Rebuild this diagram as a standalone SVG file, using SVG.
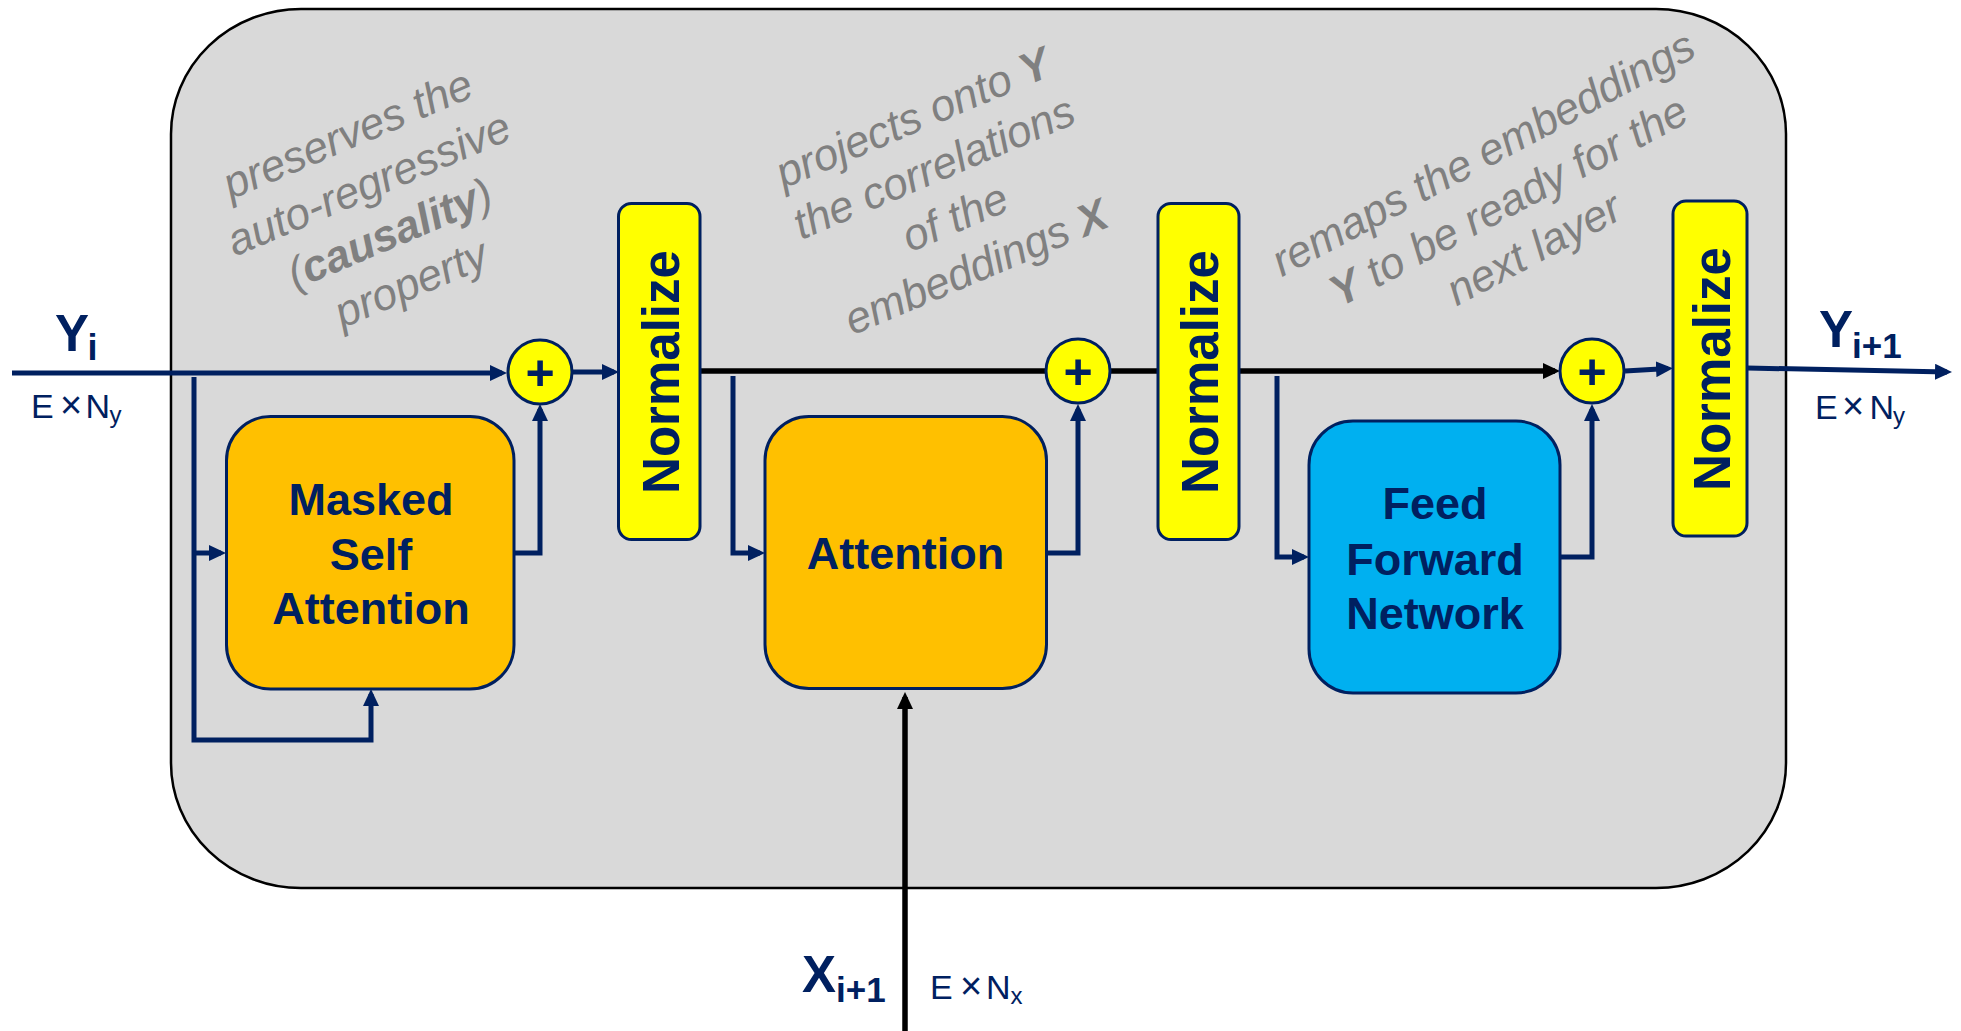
<svg xmlns="http://www.w3.org/2000/svg" width="1961" height="1031" viewBox="0 0 1961 1031">
  <style>
    text { font-family: "Liberation Sans", Arial, sans-serif; }
    .frame { fill: #D9D9D9; stroke: #000000; stroke-width: 2.5; }
    .block { stroke: #002060; stroke-width: 3; }
    .orange { fill: #FFC000; }
    .blue { fill: #00B0F0; }
    .yellow { fill: #FFFF00; }
    .blockText { fill: #002060; font-weight: bold; font-size: 45px; text-anchor: middle; }
    .normText { fill: #002060; font-weight: bold; font-size: 51px; text-anchor: middle; }
    .plus { fill: #002060; font-weight: bold; font-size: 50px; text-anchor: middle; }
    .wire { fill: none; stroke: #002060; stroke-width: 5; stroke-linejoin: miter; }
    .wireBlack { fill: none; stroke: #000000; stroke-width: 5.5; }
    .note { fill: #808080; font-size: 44px; font-style: italic; text-anchor: middle; }
    .note .b { font-weight: bold; }
    .sym { fill: #002060; font-weight: bold; }
    .dim { fill: #002060; font-size: 34px; }
    .times { font-size: 38px; }
    .dimSub { fill: #002060; font-size: 24px; }
  </style>
  <defs>
    <marker id="arrNavy" viewBox="0 0 17 16" refX="12" refY="8" markerWidth="17" markerHeight="16" markerUnits="userSpaceOnUse" orient="auto">
      <path d="M0,0 L17,8 L0,16 Z" fill="#002060"/>
    </marker>
    <marker id="arrBlack" viewBox="0 0 17 16" refX="12" refY="8" markerWidth="17" markerHeight="16" markerUnits="userSpaceOnUse" orient="auto">
      <path d="M0,0 L17,8 L0,16 Z" fill="#000000"/>
    </marker>
  </defs>

  <rect width="1961" height="1031" fill="#FFFFFF"/>

  <!-- decoder layer frame -->
  <g id="layer-frame">
    <rect class="frame" x="171" y="9" width="1615" height="879" rx="130" ry="125"/>
  </g>

  <!-- side notes -->
  <g id="note-causality" transform="translate(380.5,211.75) rotate(-23)">
    <text class="note" x="0" y="-69.5">preserves the</text>
    <text class="note" x="0" y="-15.5">auto-regressive</text>
    <text class="note" x="0" y="38.5">(<tspan class="b">causality</tspan>)</text>
    <text class="note" x="0" y="92.5">property</text>
  </g>
  <g id="note-cross" transform="translate(945.75,195.5) rotate(-23)">
    <text class="note" x="0" y="-69.5">projects onto <tspan class="b">Y</tspan></text>
    <text class="note" x="0" y="-15.5">the correlations</text>
    <text class="note" x="0" y="38.5">of the</text>
    <text class="note" x="0" y="92.5">embeddings <tspan class="b">X</tspan></text>
  </g>
  <g id="note-ffn" transform="translate(1510,204) rotate(-28)">
    <text class="note" x="0" y="-42.5">remaps the embeddings</text>
    <text class="note" x="0" y="11.5"><tspan class="b">Y</tspan> to be ready for the</text>
    <text class="note" x="0" y="65.5">next layer</text>
  </g>

  <!-- connectors -->
  <g id="connectors">
    <path class="wire" d="M12,373 H502" marker-end="url(#arrNavy)"/>
    <path class="wire" d="M573,372 H614" marker-end="url(#arrNavy)"/>
    <path class="wire" d="M194,377 V740 H371 V694" marker-end="url(#arrNavy)"/>
    <path class="wire" d="M194,553 H221" marker-end="url(#arrNavy)"/>
    <path class="wire" d="M514,553 H540 V409" marker-end="url(#arrNavy)"/>
    <path class="wireBlack" d="M700,371 H1046"/>
    <path class="wireBlack" d="M1110,371 H1158"/>
    <path class="wire" d="M733,376 V553 H760" marker-end="url(#arrNavy)"/>
    <path class="wire" d="M1046,553 H1078 V409" marker-end="url(#arrNavy)"/>
    <path class="wireBlack" d="M1239,371 H1555" marker-end="url(#arrBlack)"/>
    <path class="wire" d="M1277,376 V557 H1304" marker-end="url(#arrNavy)"/>
    <path class="wire" d="M1560,557 H1592 V409" marker-end="url(#arrNavy)"/>
    <path class="wire" d="M1625,371 L1668,368.5" marker-end="url(#arrNavy)"/>
    <path class="wire" d="M1747,368 L1947,372" marker-end="url(#arrNavy)"/>
    <path class="wireBlack" d="M905,1031 V697" marker-end="url(#arrBlack)"/>
  </g>

  <!-- masked self attention -->
  <g id="masked-self-attention">
    <rect class="block orange" x="226.5" y="416.5" width="287.5" height="272.5" rx="44"/>
    <text class="blockText" x="371" y="515">Masked</text>
    <text class="blockText" x="371" y="570">Self</text>
    <text class="blockText" x="371" y="624">Attention</text>
  </g>

  <!-- cross attention -->
  <g id="attention">
    <rect class="block orange" x="765" y="416.5" width="281.5" height="272" rx="44"/>
    <text class="blockText" x="905.5" y="569">Attention</text>
  </g>

  <!-- feed forward network -->
  <g id="feed-forward">
    <rect class="block blue" x="1309" y="421" width="251" height="272" rx="44"/>
    <text class="blockText" x="1435" y="519">Feed</text>
    <text class="blockText" x="1435" y="575">Forward</text>
    <text class="blockText" x="1435" y="629">Network</text>
  </g>

  <!-- normalisation blocks -->
  <g id="normalize-1">
    <rect class="block yellow" x="618.5" y="203.5" width="81.5" height="336" rx="13"/>
    <text class="normText" transform="translate(678.5,372) rotate(-90)" x="0" y="0">Normalize</text>
  </g>
  <g id="normalize-2">
    <rect class="block yellow" x="1158" y="203.5" width="81" height="336" rx="13"/>
    <text class="normText" transform="translate(1218,372) rotate(-90)" x="0" y="0">Normalize</text>
  </g>
  <g id="normalize-3">
    <rect class="block yellow" x="1673" y="201" width="74" height="335" rx="13"/>
    <text class="normText" transform="translate(1729.5,369) rotate(-90)" x="0" y="0">Normalize</text>
  </g>

  <!-- residual adders -->
  <g id="add-1">
    <circle class="block yellow" cx="540" cy="372" r="32"/>
    <text class="plus" x="540" y="389.5">+</text>
  </g>
  <g id="add-2">
    <circle class="block yellow" cx="1078" cy="371" r="32"/>
    <text class="plus" x="1078" y="388.5">+</text>
  </g>
  <g id="add-3">
    <circle class="block yellow" cx="1592" cy="371" r="32"/>
    <text class="plus" x="1592" y="388.5">+</text>
  </g>

  <!-- input / output labels -->
  <g id="label-y-in">
    <text class="sym" x="55" y="351" font-size="51">Y</text>
    <text class="sym" x="87.5" y="360" font-size="36">i</text>
    <text class="dim" y="418"><tspan x="31">E</tspan><tspan class="times" x="60">×</tspan><tspan x="85.5">N</tspan></text>
    <text class="dimSub" x="109.5" y="423">y</text>
  </g>
  <g id="label-y-out">
    <text class="sym" x="1819" y="347" font-size="51">Y</text>
    <text class="sym" x="1852" y="358" font-size="35">i+1</text>
    <text class="dim" y="419"><tspan x="1815">E</tspan><tspan class="times" x="1842">×</tspan><tspan x="1869.5">N</tspan></text>
    <text class="dimSub" x="1893" y="424">y</text>
  </g>
  <g id="label-x-in">
    <text class="sym" x="802" y="992" font-size="51">X</text>
    <text class="sym" x="836" y="1002" font-size="35">i+1</text>
    <text class="dim" y="999"><tspan x="930">E</tspan><tspan class="times" x="960">×</tspan><tspan x="986">N</tspan></text>
    <text class="dimSub" x="1010.5" y="1004">x</text>
  </g>
</svg>
